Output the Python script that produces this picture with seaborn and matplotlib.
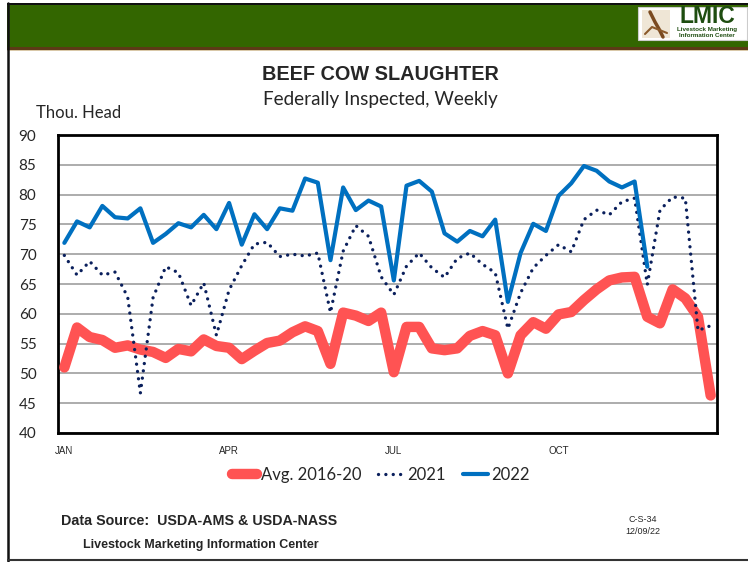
import numpy as np
import pandas as pd
import matplotlib
matplotlib.use("Agg")
import matplotlib.pyplot as plt
import seaborn as sns
from matplotlib.patches import Rectangle
from matplotlib.lines import Line2D

# ---- data (thousand head, weekly) ----
avg_2016_20 = [51.0, 57.7, 56.1, 55.6, 54.3, 54.7, 54.0, 53.6, 52.6, 54.1,
               53.7, 55.7, 54.6, 54.3, 52.4, 53.8, 55.1, 55.5, 56.9, 57.9,
               57.1, 51.6, 60.2, 59.7, 58.8, 60.2, 50.2, 57.8, 57.8, 54.2,
               53.9, 54.2, 56.3, 57.1, 56.4, 50.0, 56.4, 58.6, 57.5, 59.9,
               60.3, 62.3, 64.1, 65.6, 66.1, 66.2, 59.5, 58.4, 64.1, 62.6,
               59.5, 46.3]
y2021 = [69.8, 66.5, 68.8, 66.5, 67.0, 62.8, 46.7, 62.7, 67.9, 66.9,
         61.4, 65.2, 56.4, 64.0, 68.1, 71.7, 72.0, 69.6, 70.0, 69.7,
         70.2, 60.2, 70.5, 74.8, 73.0, 66.2, 63.2, 68.0, 70.2, 67.7,
         66.1, 69.3, 70.2, 68.3, 66.9, 57.5, 63.5, 67.7, 69.8, 71.6,
         70.4, 75.8, 77.4, 76.6, 78.8, 79.4, 64.9, 77.4, 79.6, 79.4,
         57.2, 58.0]
y2022 = [71.9, 75.5, 74.5, 78.1, 76.2, 76.0, 77.7, 71.9, 73.4, 75.2,
         74.5, 76.6, 74.2, 78.6, 71.6, 76.7, 74.2, 77.7, 77.3, 82.7,
         82.0, 69.0, 81.2, 77.4, 79.0, 78.0, 65.6, 81.5, 82.3, 80.5,
         73.5, 72.1, 73.9, 73.0, 75.8, 62.0, 70.2, 75.1, 73.9, 79.8,
         81.9, 84.8, 84.0, 82.2, 81.2, 82.2, 67.9]
month_labels = ["JAN", "APR", "JUL", "OCT"]
month_weeks = [0, 13, 26, 39]
y_ticks = [40, 45, 50, 55, 60, 65, 70, 75, 80, 85, 90]

c_avg = "#FF5353"
c_2021 = "#0A1F5C"
c_2022 = "#0070C0"

sns.set_style("white")
plt.rcParams["font.family"] = ["Lato", "DejaVu Sans"]

W, H = 748, 562
fig = plt.figure(figsize=(W / 100, H / 100), dpi=100)
fig.patch.set_facecolor("white")

def fx(x):
    return x / W

def fy(y):
    return 1 - y / H

# header band
fig.patches.append(Rectangle((fx(7), fy(47)), 1, fy(5) - fy(47), transform=fig.transFigure,
                             facecolor="#336600", edgecolor="none", zorder=0))
fig.patches.append(Rectangle((fx(7), fy(50)), 1, fy(47) - fy(50), transform=fig.transFigure,
                             facecolor="#5C3A16", edgecolor="none", zorder=0))
fig.patches.append(Rectangle((fx(7), fy(51)), 1, fy(50) - fy(51), transform=fig.transFigure,
                             facecolor="#D9C8A8", edgecolor="none", zorder=0))
fig.patches.append(Rectangle((fx(7), fy(5)), 1, fy(3) - fy(5), transform=fig.transFigure,
                             facecolor="#111111", edgecolor="none", zorder=0))
# frame lines
fig.add_artist(Line2D([fx(8), fx(8)], [fy(3), fy(562)], transform=fig.transFigure,
                      color="#111111", lw=1.8))
fig.add_artist(Line2D([fx(8), 1], [fy(560), fy(560)], transform=fig.transFigure,
                      color="#333333", lw=1.5))
# logo box
fig.patches.append(Rectangle((fx(638), fy(40)), fx(747) - fx(638), fy(7) - fy(40),
                             transform=fig.transFigure, facecolor="white",
                             edgecolor="#CCCCCC", lw=0.8, zorder=2))
fig.patches.append(Rectangle((fx(642), fy(38)), fx(670) - fx(642), fy(10) - fy(38),
                             transform=fig.transFigure, facecolor="#EFE6D6",
                             edgecolor="none", zorder=3))
fig.add_artist(Line2D([fx(650), fx(655), fx(659), fx(663)], [fy(12), fy(22), fy(29), fy(37)],
                      transform=fig.transFigure, color="#7A4A20", lw=2.5, zorder=4))
fig.add_artist(Line2D([fx(645), fx(652), fx(667)], [fy(34), fy(27), fy(33)],
                      transform=fig.transFigure, color="#8B5A2B", lw=1.5, zorder=4))
fig.text(fx(707), fy(16.5), "LMIC", ha="center", va="center", fontsize=16.5,
         fontweight="bold", color="#1E4D10", family=["Liberation Sans"], zorder=5)
fig.text(fx(707), fy(32.5), "Livestock Marketing\nInformation Center", ha="center", va="center",
         fontsize=4.5, fontweight="bold", color="#1E4D10", family=["Liberation Sans"],
         linespacing=1.05, zorder=5)

# titles
fig.text(fx(380), fy(74), "BEEF COW SLAUGHTER", ha="center", va="center", fontsize=14.3,
         fontweight="bold", family=["Liberation Sans"])
fig.text(fx(380), fy(99), "Federally Inspected, Weekly", ha="center", va="center",
         fontsize=13.6, family=["Lato"])
fig.text(fx(36), fy(113), "Thou. Head", ha="left", va="center", fontsize=12, family=["Lato"])

# axes
ax = fig.add_axes([fx(58), fy(433), fx(717) - fx(58), fy(135) - fy(433)])
df_avg = pd.DataFrame({"week": np.arange(len(avg_2016_20)) + 0.5, "v": avg_2016_20})
df_21 = pd.DataFrame({"week": np.arange(len(y2021)) + 0.5, "v": y2021})
df_22 = pd.DataFrame({"week": np.arange(len(y2022)) + 0.5, "v": y2022})

dot_style = (0, (0.01, 2.2))
sns.lineplot(data=df_avg, x="week", y="v", ax=ax, color=c_avg, lw=7.5,
             solid_joinstyle="round", solid_capstyle="round", zorder=3)
sns.lineplot(data=df_21, x="week", y="v", ax=ax, color=c_2021, lw=2.4,
             linestyle=dot_style, dash_capstyle="round", zorder=4)
sns.lineplot(data=df_22, x="week", y="v", ax=ax, color=c_2022, lw=3,
             solid_joinstyle="round", zorder=5)

ax.set_xlim(0, 52)
ax.set_ylim(40, 90)
ax.set_yticks(y_ticks)
ax.set_yticklabels([str(t) for t in y_ticks], fontsize=11, family=["Lato"])
ax.set_xticks(np.arange(0, 53))
ax.set_xticklabels([])
ax.set_xticks([w + 0.5 for w in month_weeks], minor=True)
ax.set_xticklabels(month_labels, minor=True, fontsize=7, family=["Liberation Sans"])
ax.tick_params(axis="x", which="major", direction="out", length=3.5, width=1, color="black")
ax.tick_params(axis="x", which="minor", length=0, pad=9)
ax.tick_params(axis="y", direction="out", length=4.5, width=1, color="black", pad=11)
ax.set_xlabel("")
ax.set_ylabel("")
ax.grid(axis="y", color="#A6A6A6", lw=1.3)
ax.grid(axis="x", visible=False)
ax.set_axisbelow(True)
for s in ax.spines.values():
    s.set_visible(True)
    s.set_color("black")
    s.set_linewidth(2)

# legend
handles = [Line2D([], [], color=c_avg, lw=7.5, solid_capstyle="round"),
           Line2D([], [], color=c_2021, lw=2.4, linestyle=dot_style, dash_capstyle="round"),
           Line2D([], [], color=c_2022, lw=3)]
fig.legend(handles, ["Avg. 2016-20", "2021", "2022"], loc="center",
           bbox_to_anchor=(fx(381), fy(475)), ncol=3, frameon=False,
           handlelength=1.5, handletextpad=0.25, columnspacing=1.0,
           prop={"family": ["Lato"], "size": 12})

# footer
fig.text(fx(61), fy(521), "Data Source:  USDA-AMS & USDA-NASS", ha="left", va="center",
         fontsize=10.3, fontweight="bold", family=["Liberation Sans"])
fig.text(fx(83), fy(545), "Livestock Marketing Information Center", ha="left", va="center",
         fontsize=9, fontweight="bold", family=["Liberation Sans"])
fig.text(fx(643), fy(519), "C-S-34", ha="center", va="center", fontsize=6.5,
         family=["Liberation Sans"])
fig.text(fx(643), fy(532), "12/09/22", ha="center", va="center", fontsize=6.5,
         family=["Liberation Sans"])

fig.savefig("out.png", dpi=100)
